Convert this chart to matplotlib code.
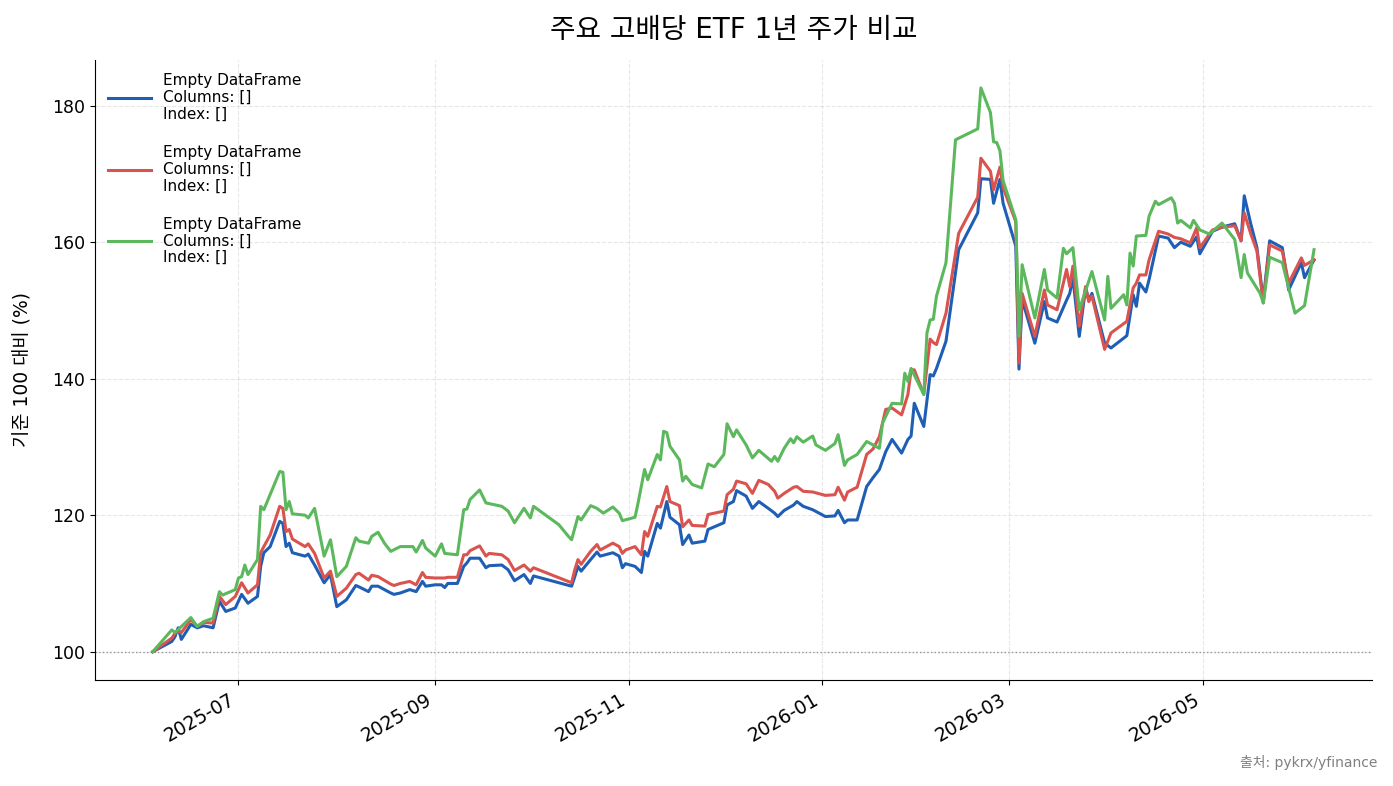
import numpy as np
import pandas as pd
import matplotlib
matplotlib.use("Agg")
import matplotlib.pyplot as plt
import matplotlib.dates as mdates

plt.rcParams['font.family'] = ['DejaVu Sans', 'Noto Sans CJK KR']
plt.rcParams['axes.unicode_minus'] = False

# 국내 ETF (pykrx) 거래일
kr_dates = [
    "2025-06-04", "2025-06-10", "2025-06-11", "2025-06-12", "2025-06-13", "2025-06-16",
    "2025-06-18", "2025-06-20", "2025-06-23", "2025-06-25", "2025-06-27", "2025-06-30",
    "2025-07-02", "2025-07-04", "2025-07-07", "2025-07-08", "2025-07-09", "2025-07-11",
    "2025-07-14", "2025-07-15", "2025-07-16", "2025-07-17", "2025-07-18", "2025-07-22",
    "2025-07-23", "2025-07-25", "2025-07-28", "2025-07-30",
    "2025-08-01", "2025-08-04", "2025-08-07", "2025-08-08", "2025-08-11", "2025-08-12",
    "2025-08-14", "2025-08-18", "2025-08-19", "2025-08-21", "2025-08-24", "2025-08-26",
    "2025-08-28", "2025-08-29",
    "2025-09-01", "2025-09-03", "2025-09-04", "2025-09-05", "2025-09-08", "2025-09-10",
    "2025-09-11", "2025-09-12", "2025-09-15", "2025-09-17", "2025-09-18", "2025-09-22",
    "2025-09-24", "2025-09-26", "2025-09-29",
    "2025-10-01", "2025-10-02", "2025-10-14", "2025-10-15", "2025-10-16", "2025-10-17",
    "2025-10-20", "2025-10-22", "2025-10-23", "2025-10-27", "2025-10-29", "2025-10-30",
    "2025-10-31",
    "2025-11-03", "2025-11-05", "2025-11-06", "2025-11-07", "2025-11-10", "2025-11-11",
    "2025-11-13", "2025-11-14", "2025-11-17", "2025-11-18", "2025-11-20", "2025-11-21",
    "2025-11-25", "2025-11-26",
    "2025-12-01", "2025-12-02", "2025-12-04", "2025-12-05", "2025-12-08", "2025-12-10",
    "2025-12-12", "2025-12-15", "2025-12-17", "2025-12-18", "2025-12-20", "2025-12-23",
    "2025-12-24", "2025-12-26", "2025-12-29",
    "2026-01-02", "2026-01-05", "2026-01-06", "2026-01-08", "2026-01-09", "2026-01-12",
    "2026-01-15", "2026-01-17", "2026-01-19", "2026-01-21", "2026-01-23", "2026-01-26",
    "2026-01-28", "2026-01-29", "2026-01-30",
    "2026-02-02", "2026-02-04", "2026-02-05", "2026-02-06", "2026-02-09", "2026-02-13",
    "2026-02-19", "2026-02-20", "2026-02-23", "2026-02-24", "2026-02-26", "2026-02-27",
    "2026-03-03", "2026-03-04", "2026-03-05", "2026-03-09", "2026-03-12", "2026-03-13",
    "2026-03-16", "2026-03-19", "2026-03-20", "2026-03-21", "2026-03-23", "2026-03-25",
    "2026-03-26", "2026-03-27", "2026-03-31",
    "2026-04-02", "2026-04-07", "2026-04-09", "2026-04-10", "2026-04-11", "2026-04-13",
    "2026-04-14", "2026-04-17", "2026-04-20", "2026-04-22", "2026-04-24", "2026-04-27",
    "2026-04-29", "2026-04-30",
    "2026-05-04", "2026-05-07", "2026-05-11", "2026-05-13", "2026-05-14", "2026-05-16",
    "2026-05-18", "2026-05-20", "2026-05-22", "2026-05-26", "2026-05-28",
    "2026-06-01", "2026-06-02", "2026-06-05",
]

blue_vals = [
    100.0, 101.5, 102.2, 103.5, 101.8, 104.0, 103.5, 103.8, 103.5, 107.4, 105.9, 106.4,
    108.4, 107.1, 108.1, 112.5, 114.5, 115.4, 119.1, 118.8, 115.4, 115.9, 114.5, 114.0,
    114.3, 112.7, 110.1, 111.3,
    106.6, 107.6, 109.7, 109.5, 108.8, 109.6, 109.6, 108.6, 108.4, 108.6, 109.1, 108.8,
    110.3, 109.6,
    109.8, 109.8, 109.4, 110.0, 110.0, 112.5, 113.0, 113.7, 113.7, 112.3, 112.6, 112.7,
    112.0, 110.4, 111.3,
    110.0, 111.1, 109.6, 111.0, 112.5, 111.8, 113.5, 114.6, 114.0, 114.5, 114.0, 112.3,
    112.9,
    112.5, 111.6, 114.7, 114.0, 118.8, 118.1, 122.0, 119.7, 118.6, 115.7, 117.1, 115.9,
    116.2, 117.9,
    118.9, 121.5, 122.0, 123.6, 122.8, 121.0, 122.0, 121.0, 120.3, 119.8, 120.7, 121.5,
    122.0, 121.3, 120.8,
    119.8, 119.9, 120.7, 118.9, 119.3, 119.3, 124.2, 125.5, 126.7, 129.3, 131.1, 129.1,
    131.1, 131.6, 136.4,
    133.0, 140.6, 140.4, 141.5, 145.5, 158.9, 164.3, 169.3, 169.2, 165.7, 169.2, 165.7,
    159.4, 141.4, 151.6, 145.2, 151.3, 148.9, 148.3, 151.5, 152.5, 154.8, 146.2, 153.3,
    151.5, 152.5, 145.2,
    144.5, 146.3, 152.3, 150.6, 154.0, 152.7, 154.5, 160.9, 160.6, 159.2, 160.0, 159.4,
    160.8, 158.3,
    161.6, 162.2, 162.7, 160.2, 166.8, 162.8, 159.2, 151.4, 160.2, 159.2, 153.0,
    157.0, 154.8, 157.4,
]

red_vals = [
    100.0, 102.0, 102.7, 103.0, 102.8, 104.7, 103.7, 104.3, 104.2, 108.1, 106.9, 108.1,
    110.1, 108.6, 109.8, 114.5, 115.4, 117.1, 121.3, 121.0, 117.6, 117.9, 116.5, 115.4,
    115.8, 114.4, 110.8, 111.8,
    108.1, 109.3, 111.3, 111.5, 110.5, 111.2, 111.0, 109.9, 109.7, 110.0, 110.3, 109.8,
    111.6, 110.9,
    110.8, 110.8, 110.8, 110.9, 110.9, 114.2, 114.2, 114.8, 115.5, 114.0, 114.4, 114.2,
    113.5, 111.9, 112.7,
    111.8, 112.3, 110.1, 112.0, 113.5, 112.8, 114.7, 115.7, 114.9, 115.9, 115.4, 114.4,
    114.9,
    115.4, 114.2, 117.6, 116.9, 121.3, 121.2, 124.2, 122.0, 121.4, 118.3, 119.3, 118.5,
    118.4, 120.1,
    120.6, 123.0, 123.8, 125.0, 124.6, 123.2, 125.1, 124.5, 123.5, 122.5, 123.2, 124.1,
    124.2, 123.5, 123.4,
    122.9, 123.0, 124.1, 122.2, 123.4, 124.1, 128.9, 129.7, 131.5, 135.5, 135.7, 134.7,
    137.7, 141.3, 141.3,
    137.7, 145.8, 145.3, 145.0, 149.6, 161.3, 166.6, 172.3, 170.4, 167.7, 171.0, 168.0,
    163.0, 142.3, 152.5, 146.2, 153.0, 150.8, 150.1, 156.0, 153.5, 156.5, 147.7, 153.5,
    151.3, 152.1, 144.3,
    146.7, 148.4, 153.3, 154.0, 155.2, 155.2, 157.4, 161.6, 161.2, 160.7, 160.5, 159.9,
    162.1, 159.2,
    161.8, 162.2, 162.4, 160.2, 164.3, 161.3, 158.7, 151.1, 159.6, 158.7, 154.0,
    157.7, 156.6, 157.4,
]

# 해외 ETF (yfinance) 거래일
us_dates = [
    "2025-06-04", "2025-06-10", "2025-06-11", "2025-06-16", "2025-06-18", "2025-06-20",
    "2025-06-23", "2025-06-25", "2025-06-26", "2025-06-30",
    "2025-07-01", "2025-07-02", "2025-07-03", "2025-07-04", "2025-07-07", "2025-07-08",
    "2025-07-09", "2025-07-14", "2025-07-15", "2025-07-16", "2025-07-17", "2025-07-18",
    "2025-07-22", "2025-07-23", "2025-07-25", "2025-07-28", "2025-07-30",
    "2025-08-01", "2025-08-04", "2025-08-07", "2025-08-08", "2025-08-11", "2025-08-12",
    "2025-08-14", "2025-08-16", "2025-08-18", "2025-08-21", "2025-08-25", "2025-08-26",
    "2025-08-28", "2025-08-29",
    "2025-09-01", "2025-09-03", "2025-09-04", "2025-09-08", "2025-09-10", "2025-09-11",
    "2025-09-12", "2025-09-15", "2025-09-17", "2025-09-22", "2025-09-24", "2025-09-26",
    "2025-09-29",
    "2025-10-01", "2025-10-02", "2025-10-10", "2025-10-13", "2025-10-14", "2025-10-16",
    "2025-10-17", "2025-10-20", "2025-10-22", "2025-10-24", "2025-10-27", "2025-10-29",
    "2025-10-30",
    "2025-11-03", "2025-11-04", "2025-11-06", "2025-11-07", "2025-11-10", "2025-11-11",
    "2025-11-12", "2025-11-13", "2025-11-14", "2025-11-17", "2025-11-18", "2025-11-19",
    "2025-11-21", "2025-11-24", "2025-11-26", "2025-11-28",
    "2025-12-01", "2025-12-02", "2025-12-04", "2025-12-05", "2025-12-08", "2025-12-10",
    "2025-12-12", "2025-12-16", "2025-12-17", "2025-12-18", "2025-12-20", "2025-12-22",
    "2025-12-23", "2025-12-24", "2025-12-26", "2025-12-29", "2025-12-30",
    "2026-01-02", "2026-01-05", "2026-01-06", "2026-01-08", "2026-01-09", "2026-01-12",
    "2026-01-15", "2026-01-19", "2026-01-20", "2026-01-23", "2026-01-26", "2026-01-27",
    "2026-01-28", "2026-01-29",
    "2026-02-02", "2026-02-03", "2026-02-04", "2026-02-05", "2026-02-06", "2026-02-09",
    "2026-02-12", "2026-02-19", "2026-02-20", "2026-02-23", "2026-02-24", "2026-02-25",
    "2026-02-26", "2026-02-27",
    "2026-03-03", "2026-03-04", "2026-03-05", "2026-03-09", "2026-03-12", "2026-03-13",
    "2026-03-16", "2026-03-18", "2026-03-19", "2026-03-21", "2026-03-23", "2026-03-27",
    "2026-03-31",
    "2026-04-01", "2026-04-02", "2026-04-06", "2026-04-07", "2026-04-08", "2026-04-09",
    "2026-04-10", "2026-04-13", "2026-04-14", "2026-04-16", "2026-04-17", "2026-04-21",
    "2026-04-22", "2026-04-23", "2026-04-24", "2026-04-27", "2026-04-28", "2026-04-30",
    "2026-05-03", "2026-05-07", "2026-05-11", "2026-05-13", "2026-05-14", "2026-05-15",
    "2026-05-19", "2026-05-20", "2026-05-22", "2026-05-26", "2026-05-30",
    "2026-06-02", "2026-06-05",
]

green_vals = [
    100.0, 103.2, 102.8, 105.0, 103.7, 104.4, 104.9, 108.8, 108.3, 109.1,
    110.8, 111.0, 112.7, 111.3, 113.5, 121.3, 120.8, 126.4, 126.3, 120.8, 122.0, 120.2,
    120.0, 119.6, 121.0, 114.0, 116.4,
    111.0, 112.5, 116.7, 116.2, 115.9, 116.9, 117.5, 115.9, 114.7, 115.4, 115.4, 114.6,
    116.3, 115.2,
    114.0, 115.8, 114.4, 114.2, 120.8, 120.9, 122.3, 123.7, 121.8, 121.3, 120.6, 118.9,
    121.0,
    119.6, 121.3, 118.6, 116.9, 116.4, 119.8, 119.3, 121.4, 121.0, 120.3, 121.2, 120.3,
    119.2,
    119.7, 121.9, 126.7, 125.2, 128.9, 128.1, 132.3, 132.1, 130.1, 128.1, 125.0, 125.7,
    124.5, 124.0, 127.5, 127.1,
    128.9, 133.4, 131.5, 132.5, 130.3, 128.4, 129.5, 127.9, 128.6, 127.9, 129.8, 131.2,
    130.6, 131.5, 130.7, 131.6, 130.3,
    129.5, 130.5, 131.8, 127.3, 128.1, 128.9, 130.8, 129.8, 133.5, 136.4, 136.3, 140.8,
    139.6, 141.5,
    137.7, 146.7, 148.6, 148.7, 152.1, 157.0, 175.0, 176.6, 182.6, 179.0, 174.7, 174.6,
    173.4, 169.0,
    163.3, 146.2, 156.7, 148.9, 156.0, 153.0, 151.8, 159.1, 158.3, 159.2, 150.1, 155.7,
    148.6,
    155.0, 150.3, 152.3, 150.8, 158.4, 156.5, 160.9, 161.0, 163.8, 166.0, 165.5, 166.5,
    165.7, 162.8, 163.2, 162.1, 163.2, 161.8,
    161.2, 162.8, 160.4, 154.8, 158.2, 155.5, 152.5, 151.1, 157.8, 157.0, 149.6,
    150.7, 158.9,
]

legend_label = "Empty DataFrame\nColumns: []\nIndex: []"
colors = ["#1f5eb5", "#d9534f", "#5cb85c"]

kr_x = pd.to_datetime(kr_dates)
us_x = pd.to_datetime(us_dates)

fig, ax = plt.subplots(figsize=(13.93, 7.86), dpi=100)

ax.plot(kr_x, blue_vals, color=colors[0], linewidth=2.2, label=legend_label)
ax.plot(kr_x, red_vals, color=colors[1], linewidth=2.2, label=legend_label)
ax.plot(us_x, green_vals, color=colors[2], linewidth=2.2, label=legend_label)

ax.axhline(100, color='gray', linestyle=':', linewidth=1, alpha=0.8)

ax.set_title("주요 고배당 ETF 1년 주가 비교", fontsize=20, pad=16)
ax.set_ylabel("기준 100 대비 (%)", fontsize=13.5, labelpad=14)
ax.grid(True, linestyle='--', alpha=0.3)
ax.spines['top'].set_visible(False)
ax.spines['right'].set_visible(False)

ax.xaxis.set_major_locator(mdates.MonthLocator(bymonth=[1, 3, 5, 7, 9, 11]))
ax.xaxis.set_major_formatter(mdates.DateFormatter('%Y-%m'))
ax.tick_params(axis='y', labelsize=12.5)
ax.tick_params(axis='x', labelsize=13.5)
for lbl in ax.get_xticklabels():
    lbl.set_rotation(30)
    lbl.set_ha('right')

leg = ax.legend(loc='upper left', frameon=False, fontsize=11, handlelength=2.8,
                labelspacing=1.5)
for t in leg.get_texts():
    t.set_linespacing(1.15)

fig.text(0.989, 0.02, "출처: pykrx/yfinance", ha='right', va='bottom',
         fontsize=10, color='gray')

plt.subplots_adjust(left=0.068, right=0.985, top=0.924, bottom=0.135)
plt.savefig('out.png', dpi=100)
